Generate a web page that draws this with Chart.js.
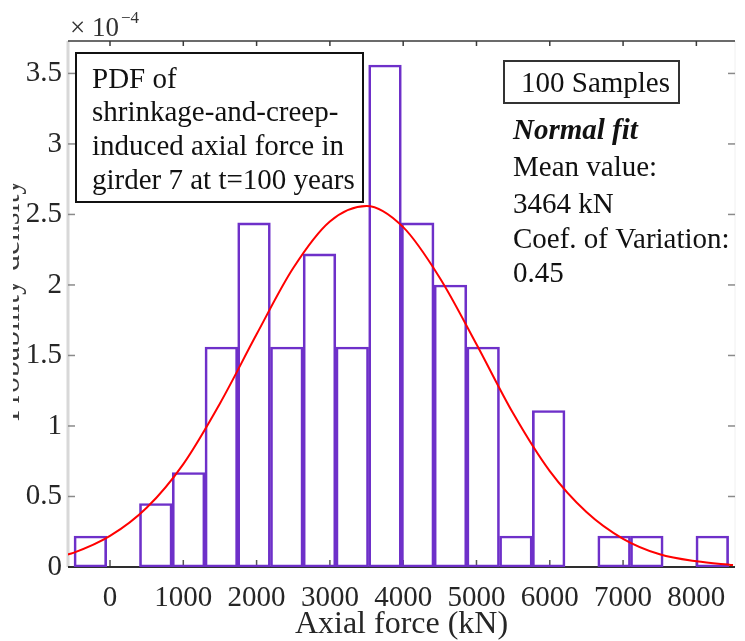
<!DOCTYPE html>
<html>
<head>
<meta charset="utf-8">
<script src="https://cdn.jsdelivr.net/npm/chart.js@4.4.1/dist/chart.umd.min.js"></script>
<style>
  html, body { margin: 0; padding: 0; background: #fff; }
  canvas { display: block; }
</style>
</head>
<body>
<canvas id="histChart" width="745" height="641"></canvas>
<script>
// Histogram bins (kN) and heights (x 1e-4)
const binCenters = [-268, 179, 625, 1072, 1519, 1965, 2412, 2858, 3305, 3752,
                    4198, 4645, 5091, 5538, 5985, 6431, 6878, 7324, 7771, 8217];
const binHeights = [0.22, 0, 0.45, 0.67, 1.56, 2.44, 1.56, 2.22, 1.56, 3.56,
                    2.44, 2.0, 1.56, 0.22, 1.11, 0, 0.22, 0.22, 0, 0.22];

// Normal fit curve (x 1e-4)
const fitX = [-600, -500, 0, 500, 1000, 1500, 2000, 2500, 3000, 3500,
              4000, 4500, 5000, 5500, 6000, 6500, 7000, 7500, 8000, 8500];
const fitY = [0.086, 0.10, 0.22, 0.42, 0.73, 1.16, 1.65, 2.12, 2.45, 2.56,
              2.41, 2.05, 1.58, 1.09, 0.68, 0.39, 0.20, 0.09, 0.04, 0.014];

const xTicks = [0, 1000, 2000, 3000, 4000, 5000, 6000, 7000, 8000];
const yTicks = [0, 0.5, 1, 1.5, 2, 2.5, 3, 3.5];

const SERIF = "'Liberation Serif', 'Times New Roman', serif";
const PURPLE = '#6e30c9';

function seg(ctx, x1, y1, x2, y2) {
  ctx.beginPath();
  ctx.moveTo(x1, y1);
  ctx.lineTo(x2, y2);
  ctx.stroke();
}

const framePlugin = {
  id: 'frame',
  beforeDatasetsDraw(chart) {
    const { ctx, chartArea: a, scales: { x, y } } = chart;
    ctx.save();
    // left axis (light grey)
    ctx.strokeStyle = '#d8d8d8';
    ctx.lineWidth = 3;
    seg(ctx, a.left, a.top, a.left, a.bottom);
    // right edge (very faint)
    ctx.strokeStyle = '#f0f0f0';
    ctx.lineWidth = 1;
    seg(ctx, a.right, a.top, a.right, a.bottom);
    // y ticks
    ctx.strokeStyle = '#8a8a8a';
    ctx.lineWidth = 1.5;
    yTicks.forEach(v => {
      const py = y.getPixelForValue(v);
      seg(ctx, a.left, py, a.left + 7, py);
      seg(ctx, a.right, py, a.right - 7, py);
    });
    // top edge
    ctx.strokeStyle = '#3a3a3a';
    ctx.lineWidth = 1.5;
    seg(ctx, a.left, a.top, a.right, a.top);
    xTicks.forEach(v => {
      const px = x.getPixelForValue(v);
      seg(ctx, px, a.top, px, a.top + 5);
    });
    // bottom axis
    ctx.strokeStyle = '#555';
    xTicks.forEach(v => {
      const px = x.getPixelForValue(v);
      seg(ctx, px, a.bottom, px, a.bottom - 7);
    });
    ctx.strokeStyle = '#2e2e2e';
    ctx.lineWidth = 2;
    seg(ctx, a.left, a.bottom, a.right, a.bottom);
    ctx.restore();
  },
  afterDraw(chart) {
    const { ctx, chartArea: a } = chart;
    ctx.save();

    // exponent label
    ctx.textBaseline = 'alphabetic';
    ctx.fillStyle = '#333';
    ctx.font = '27px ' + SERIF;
    ctx.fillText('\u00d7 10', 70, 36);
    ctx.font = '17px ' + SERIF;
    ctx.fillText('\u22124', 121, 23);

    // y axis title (clipped at the left, as in the source figure)
    ctx.save();
    ctx.beginPath();
    ctx.rect(13, 0, 50, 641);
    ctx.clip();
    ctx.translate(19, 300);
    ctx.rotate(-Math.PI / 2);
    ctx.textAlign = 'center';
    ctx.textBaseline = 'alphabetic';
    ctx.font = '32px ' + SERIF;
    ctx.fillStyle = '#3a3a3a';
    ctx.fillText('Probability density', 0, 0);
    ctx.restore();

    // x axis title
    ctx.textAlign = 'center';
    ctx.textBaseline = 'middle';
    ctx.font = '32px ' + SERIF;
    ctx.fillStyle = '#262626';
    ctx.fillText('Axial force (kN)', (a.left + a.right) / 2, 625);

    // description box
    ctx.fillStyle = '#fff';
    ctx.fillRect(76, 53, 287, 149);
    ctx.strokeStyle = '#111';
    ctx.lineWidth = 2;
    ctx.strokeRect(76, 53, 287, 149);
    ctx.fillStyle = '#111';
    ctx.textAlign = 'left';
    ctx.font = '29px ' + SERIF;
    ['PDF of', 'shrinkage-and-creep-', 'induced axial force in', 'girder 7 at t=100 years']
      .forEach((t, i) => ctx.fillText(t, 92, 80 + i * 33.7));

    // samples box
    ctx.fillStyle = '#fff';
    ctx.fillRect(504, 61, 175, 42);
    ctx.strokeStyle = '#333';
    ctx.strokeRect(504, 61, 175, 42);
    ctx.fillStyle = '#111';
    ctx.fillText('100 Samples', 521, 84);

    // fit info
    ctx.font = 'italic bold 29px ' + SERIF;
    ctx.fillText('Normal fit', 513, 132);
    ctx.font = '29px ' + SERIF;
    ctx.fillText('Mean value:', 513, 168);
    ctx.fillText('3464 kN', 513, 205);
    ctx.fillText('Coef. of Variation:', 513, 240);
    ctx.fillText('0.45', 513, 274);
    ctx.restore();
  }
};

new Chart(document.getElementById('histChart'), {
  type: 'bar',
  data: {
    datasets: [
      {
        type: 'line',
        order: 1,
        data: fitX.map((v, i) => ({ x: v, y: fitY[i] })),
        borderColor: '#ff0000',
        borderWidth: 2,
        pointRadius: 0,
        fill: false,
        cubicInterpolationMode: 'monotone'
      },
      {
        type: 'bar',
        order: 2,
        data: binCenters.map((v, i) => ({ x: v, y: binHeights[i] })),
        borderColor: PURPLE,
        borderWidth: 2,
        borderSkipped: false,
        backgroundColor: 'rgba(0,0,0,0)',
        barPercentage: 1,
        categoryPercentage: 1,
        grouped: false
      }
    ]
  },
  options: {
    responsive: false,
    animation: false,
    layout: { padding: { left: 0, top: 41, right: 10, bottom: 0 } },
    plugins: { legend: { display: false }, tooltip: { enabled: false } },
    scales: {
      x: {
        type: 'linear',
        offset: false,
        min: -573,
        max: 8527,
        grid: { display: false, drawTicks: false },
        border: { display: false },
        afterBuildTicks: s => { s.ticks = xTicks.map(v => ({ value: v })); },
        afterFit: s => { s.height = 74; },
        ticks: {
          padding: 14,
          maxRotation: 0,
          autoSkip: false,
          color: '#262626',
          font: { family: SERIF, size: 29 },
          callback: v => String(v)
        }
      },
      y: {
        min: 0,
        max: 3.73,
        grid: { display: false, drawTicks: false },
        border: { display: false },
        afterBuildTicks: s => { s.ticks = yTicks.map(v => ({ value: v })); },
        afterFit: s => { s.width = 68; },
        ticks: {
          padding: 6,
          color: '#262626',
          font: { family: SERIF, size: 29 },
          callback: v => String(v)
        }
      }
    }
  },
  plugins: [framePlugin]
});
</script>
</body>
</html>
